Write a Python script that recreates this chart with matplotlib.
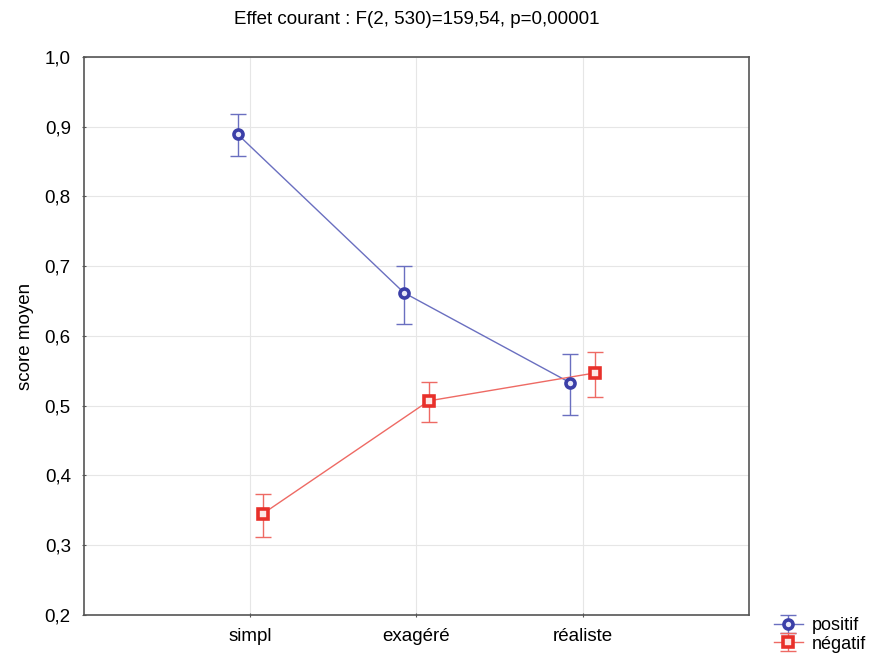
import matplotlib
matplotlib.use("Agg")
import matplotlib.pyplot as plt
from matplotlib.ticker import FuncFormatter, MultipleLocator

plt.rcParams['font.family'] = ['Liberation Sans', 'DejaVu Sans']

categories = ["simpl", "exagéré", "réaliste"]
positif = [0.889, 0.662, 0.533]
positif_lo = [0.858, 0.617, 0.487]
positif_hi = [0.918, 0.700, 0.574]
negatif = [0.345, 0.507, 0.547]
negatif_lo = [0.312, 0.477, 0.512]
negatif_hi = [0.374, 0.534, 0.577]
title = "Effet courant : F(2, 530)=159,54, p=0,00001"

fig = plt.figure(figsize=(8.77, 6.62), dpi=100)
ax = fig.add_axes([0.0958, 0.071, 0.758, 0.843])

x = list(range(len(categories)))
off = 0.075
blue = "#3b3fa8"
red = "#e8302a"

xb = [v - off for v in x]
xr = [v + off for v in x]
eb = [[p - l for p, l in zip(positif, positif_lo)], [h - p for p, h in zip(positif, positif_hi)]]
er = [[p - l for p, l in zip(negatif, negatif_lo)], [h - p for p, h in zip(negatif, negatif_hi)]]

c1 = ax.errorbar(xb, positif, yerr=eb, color="#6a6fc0", lw=1.0, elinewidth=1.0, capsize=6, capthick=1.0,
                 zorder=3)
m1, = ax.plot(xb, positif, ls="none", marker="o", ms=6.5, mfc="#e8e8f8", mec=blue, mew=2.6, zorder=4)
c2 = ax.errorbar(xr, negatif, yerr=er, color="#ee6a64", lw=1.0, elinewidth=1.0, capsize=6, capthick=1.0,
                 zorder=3)
m2, = ax.plot(xr, negatif, ls="none", marker="s", ms=6.5, mfc="#fde8e6", mec=red, mew=2.6, zorder=4)

ax.set_xlim(-1, 3)
ax.set_ylim(0.2, 1.0)
ax.set_xticks(x)
ax.set_xticklabels(categories)
ax.yaxis.set_major_locator(MultipleLocator(0.1))
ax.yaxis.set_major_formatter(FuncFormatter(lambda v, p: f"{v:.1f}".replace(".", ",")))
ax.grid(True, color="#e6e6e6", lw=0.8)
ax.set_axisbelow(True)
for s in ax.spines.values():
    s.set_color("#555555")
    s.set_linewidth(1.2)
ax.tick_params(axis='both', labelsize=13.5, length=3, color="#555555", direction='inout', pad=8)
ax.set_ylabel("score moyen", fontsize=13.5, labelpad=8)
ax.set_title(title, fontsize=13.5, pad=24)

fig.legend([(c1, m1), (c2, m2)], ["positif", "négatif"], loc="lower left",
           bbox_to_anchor=(0.868, -0.005), frameon=False, fontsize=13,
           handlelength=1.6, handletextpad=0.5, labelspacing=0.1, borderpad=0.2)

fig.savefig("out.png", dpi=100)
